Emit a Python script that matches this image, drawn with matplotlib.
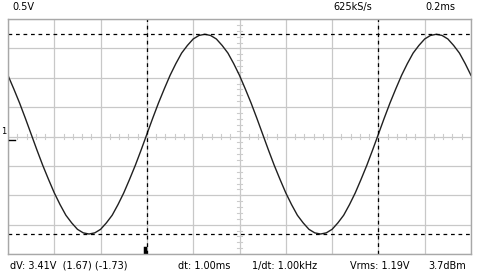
import matplotlib.pyplot as plt
from matplotlib.ticker import MultipleLocator

# time in ms, voltage in V (0.5 V/div, 0.2 ms/div)
t_ms = [i * 0.025 for i in range(81)]
volts = [1.04, 0.81, 0.57, 0.31, 0.04, -0.23, -0.49, -0.73, -0.96, -1.16,
         -1.34, -1.47, -1.58, -1.64, -1.66, -1.64, -1.58, -1.47, -1.34, -1.16,
         -0.96, -0.73, -0.49, -0.23, 0.04, 0.31, 0.57, 0.81, 1.04, 1.24,
         1.42, 1.55, 1.66, 1.72, 1.74, 1.72, 1.66, 1.55, 1.42, 1.24,
         1.04, 0.81, 0.57, 0.31, 0.04, -0.23, -0.49, -0.73, -0.96, -1.16,
         -1.34, -1.47, -1.58, -1.64, -1.66, -1.64, -1.58, -1.47, -1.34, -1.16,
         -0.96, -0.73, -0.49, -0.23, 0.04, 0.31, 0.57, 0.81, 1.04, 1.24,
         1.42, 1.55, 1.66, 1.72, 1.74, 1.72, 1.66, 1.55, 1.42, 1.24, 1.04]

cursor_t = [0.6, 1.6]
cursor_v = [1.74, -1.66]

top_labels = ['0.5V', '625kS/s', '0.2ms']
bottom_labels = ['dV: 3.41V  (1.67) (-1.73)', 'dt: 1.00ms', '1/dt: 1.00kHz',
                 'Vrms: 1.19V', '3.7dBm']


def main():
    fig = plt.figure(figsize=(4.8, 2.75), dpi=100)
    ax = fig.add_axes([8 / 480, 1 - 254 / 275, 463 / 480, 235 / 275])
    ax.set_xlim(0, 2)
    ax.set_ylim(-2, 2)
    ax.xaxis.set_major_locator(MultipleLocator(0.2))
    ax.yaxis.set_major_locator(MultipleLocator(0.5))
    ax.grid(True, color='#c8c8c8', lw=0.9)
    ax.tick_params(length=0, labelbottom=False, labelleft=False)
    for s in ax.spines.values():
        s.set_color('#a8a8a8')
        s.set_linewidth(1)

    # center cross with minor ticks
    for k in range(50):
        x = k * 0.04
        ax.plot([x, x], [-0.045, 0.045], color='#cccccc', lw=0.8)
    for k in range(40):
        y = -2 + k * 0.1
        ax.plot([0.99, 1.01], [y, y], color='#cccccc', lw=0.8)

    ax.plot(t_ms, volts, color='#202020', lw=1.0)

    for c in cursor_t:
        ax.axvline(c, color='black', ls=(0, (3, 3)), lw=0.9)
    for c in cursor_v:
        ax.axhline(c, color='black', ls=(0, (3, 3)), lw=0.9)
    ax.plot([cursor_t[0] - 0.01, cursor_t[0] - 0.01], [-2, -1.9], color='black', lw=2.5)

    fs = 7
    fig.text(12 / 480, 1 - 7 / 275, top_labels[0], fontsize=fs, va='center')
    fig.text(333 / 480, 1 - 7 / 275, top_labels[1], fontsize=fs, va='center')
    fig.text(425 / 480, 1 - 7 / 275, top_labels[2], fontsize=fs, va='center')

    xs = [10, 178, 252, 350, 428]
    for x, s in zip(xs, bottom_labels):
        fig.text(x / 480, 1 - 266 / 275, s, fontsize=fs, va='center')

    fig.text(1 / 480, 1 - 131 / 275, '1', fontsize=6, va='center')
    fig.add_artist(plt.Line2D([9 / 480, 15 / 480], [1 - 140 / 275, 1 - 140 / 275],
                              color='black', lw=1.0))

    fig.savefig('out.png', dpi=100)


if __name__ == "__main__":
    main()
